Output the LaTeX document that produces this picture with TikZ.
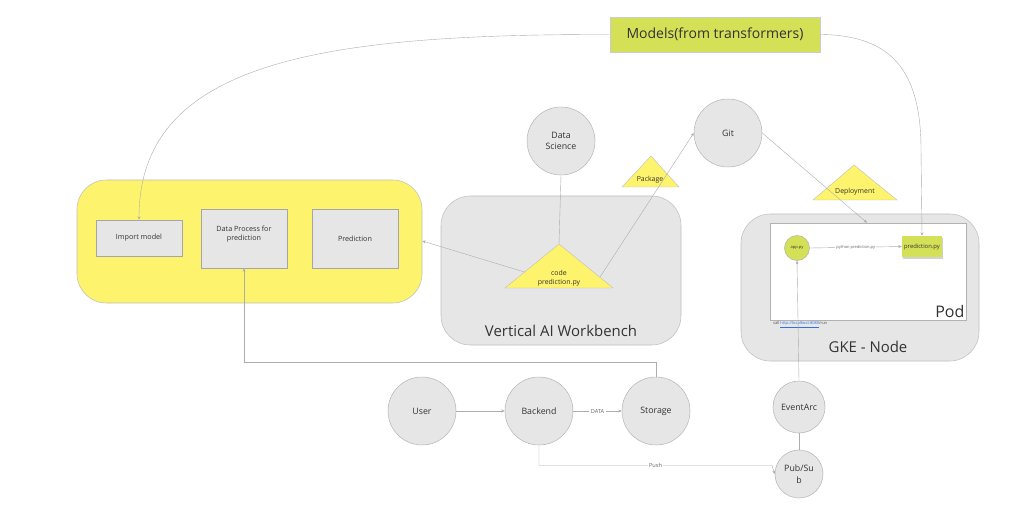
\documentclass[tikz,border=0pt]{standalone}
\usepackage{fontspec}
\setmainfont{Open Sans}
\usetikzlibrary{arrows.meta, shadows}
\definecolor{zonegray}{HTML}{E6E6E6}
\definecolor{zoneyellow}{HTML}{FDF36C}
\definecolor{limegreen}{HTML}{D4E157}
\definecolor{linkblue}{HTML}{2F6FE0}

\begin{document}
        \begin{tikzpicture}[x=0.75pt, y=-0.75pt,
            txt/.style={text=black!80},
            line/.style={draw=black!32, line width=0.3pt},
            arr/.style={line, -{Stealth[length=2.6pt, width=2.2pt]}},
            lbl/.style={fill=white, inner sep=1pt, text=black!60, font=\fontsize{4.2}{5}\selectfont},
            zone/.style={draw=black!25, line width=0.4pt, rounded corners=22pt},
            box/.style={txt, draw=black!35, fill=zonegray, align=center, inner sep=0pt, minimum width=64.5pt, font=\fontsize{5.4}{6.8}\selectfont},
            bubble/.style={txt, circle, draw=black!30, dashed, dash pattern=on 1pt off 0.3pt, fill=zonegray, align=center, inner sep=0pt, minimum size=51pt, font=\fontsize{6.6}{8.6}\selectfont},
            tri/.style={draw=black!25, line width=0.3pt, fill=zoneyellow},
            tritext/.style={txt, align=center, font=\fontsize{5.2}{6.8}\selectfont}]
            \path[fill=white] (0,0) rectangle (1024,527);
            \node[zone, fill=zoneyellow, minimum width=258.75pt, minimum height=92.25pt] (proc) at (249.5,241.5) {};
            \node[zone, fill=zonegray, minimum width=180pt, minimum height=111.75pt] (wb) at (561,270.5) {};
            \node[zone, fill=zonegray, minimum width=178.5pt, minimum height=110.25pt] (gke) at (860,287.5) {};
            \node[draw=black!30, fill=white, minimum width=147pt, minimum height=72.75pt] (pod) at (868,271.5) {};
            \node[txt, font=\fontsize{11.2}{13}\selectfont] (wblabel) at (561,331) {Vertical AI Workbench};
            \node[txt, font=\fontsize{11.2}{13}\selectfont] (gkelabel) at (868,347) {GKE - Node};
            \node[txt, font=\fontsize{12}{14}\selectfont, anchor=south east, inner sep=1pt] (podlabel) at (966,319) {Pod};
            \node[box, minimum height=27pt] (imp) at (139,238) {Import model};
            \node[box, minimum height=44.25pt, text depth=8pt] (dproc) at (244,238.5) {Data Process for\\prediction};
            \node[box, minimum height=44.25pt] (pred) at (355,238.5) {Prediction};
            \node[txt, draw=black!20, fill=limegreen, minimum width=157.5pt, minimum height=26.25pt, font=\fontsize{10.5}{12}\selectfont] (models) at (715,34.5) {Models(from transformers)};
            \node[bubble] (ds) at (561,141) {Data\\Science};
            \node[bubble] (git) at (728,133) {Git};
            \node[bubble] (user) at (422,411) {User};
            \node[bubble] (backend) at (539,411) {Backend};
            \node[bubble] (storage) at (656,411) {Storage};
            \node[bubble, minimum size=39pt] (evarc) at (799,407) {EventArc};
            \node[bubble, minimum size=36pt] (pubsub) at (799,474) {Pub/Su\\b};
            \node[txt, circle, draw=black!30, fill=limegreen, minimum size=18.75pt, inner sep=0pt, font=\fontsize{3}{4}\selectfont] (app) at (797,248) {app.py};
            \node[txt, fill=limegreen, drop shadow={opacity=0.35, shadow xshift=0.4pt, shadow yshift=-1.4pt}, minimum width=30pt, minimum height=15.75pt, inner sep=0pt, font=\fontsize{4.4}{5}\selectfont] (predpy) at (922,246.5) {prediction.py};
            \coordinate (code-t) at (559,244);
            \coordinate (code-l) at (505,288);
            \coordinate (code-r) at (613,288);
            \coordinate (code-in) at (524.5,272);
            \coordinate (code-out) at (600,277);
            \filldraw[tri] (code-t) -- (code-l) -- (code-r) -- cycle;
            \node[tritext] (codetext) at (559,278) {code\\prediction.py};
            \filldraw[tri] (651,156) -- (622,187) -- (679,187) -- cycle;
            \node[tritext] (pkg) at (650,180) {Package};
            \filldraw[tri] (854,165) -- (813,200) -- (897,200) -- cycle;
            \node[tritext] (dep) at (855,191.5) {Deployment};
            \coordinate (push-c) at (772,465.5);
            \coordinate (pred-bend) at (921,150);
            \draw[arr] (models.west) .. controls (320,34) and (139,62) .. (imp.north);
            \draw[line] (models.east) .. controls (895,35) and (921,75) .. (pred-bend);
            \draw[arr] (pred-bend) -- (predpy.north);
            \draw[line] (ds.south) -- (code-t);
            \draw[arr] (code-in) -- (proc.east |- 0,241);
            \draw[arr] (code-out) -- (git.west);
            \draw[arr] (git.east) -- (pod.north -| 867,0);
            \draw[arr] (app.east) -- node[lbl, font=\fontsize{3}{4}\selectfont] {python prediction.py} (predpy.west);
            \node[anchor=west, inner sep=0pt, text=black!70, font=\fontsize{3}{4}\selectfont] (call) at (773,324.5) {call \textcolor{linkblue}{\underline{http://localhost:8080}}/run};
            \draw[arr] (user.east) -- (backend.west);
            \draw[arr] (backend.east) -- node[lbl] {DATA} (storage.west);
            \draw[arr] (storage.north) -- ++(0,-15) -| (dproc.south);
            \draw[arr] (backend.south) |- node[lbl, pos=0.75] {Push} (push-c) -- (pubsub.west);
            \draw[line] (pubsub.north) -- (evarc.south);
            \draw[arr] (evarc.north) -- (app.south);
        \end{tikzpicture}
\end{document}
